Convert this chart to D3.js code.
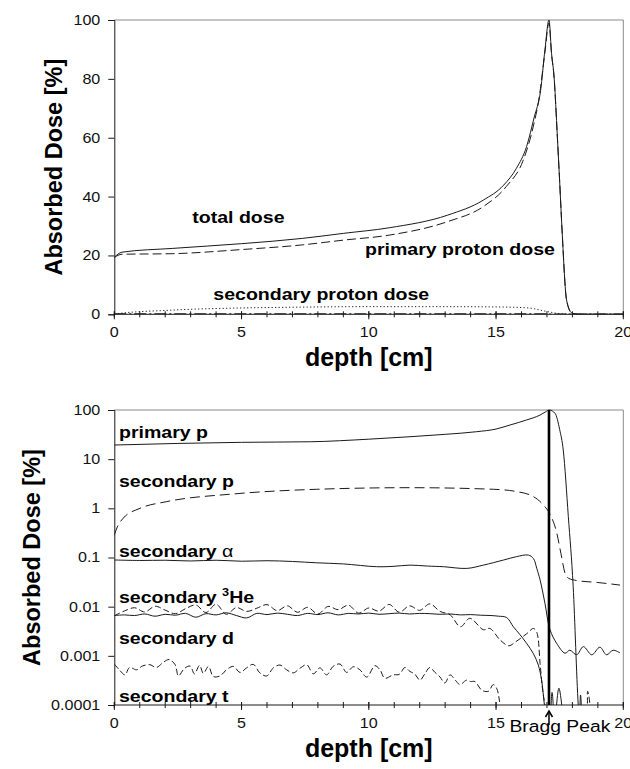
<!DOCTYPE html>
<html>
<head>
<meta charset="utf-8">
<script src="https://cdn.jsdelivr.net/npm/d3@7"></script>
<style>
  html, body { margin: 0; padding: 0; background: #fff; }
  svg { display: block; font-family: "Liberation Sans", Arial, Helvetica, sans-serif; }
</style>
</head>
<body>
<svg id="chart" width="630" height="769"></svg>
<script>
// ---------- depth axis ----------
const depthTicks = [0, 5, 10, 15, 20];
const depthMinorTicks = d3.range(0, 21, 1);

// ---------- upper panel: linear dose ----------
const doseTicks = [0, 20, 40, 60, 80, 100];

const totalDepth = [0, 0.3, 2.3, 5, 7.4, 9, 10.8, 13.1, 14.5, 15.3, 15.8, 16.2, 16.5, 16.75, 16.92, 17.08, 17.18, 17.28, 17.41, 17.5, 17.6, 17.77, 17.97, 18.2, 20];
const totalDose  = [19.4, 21.1, 22.4, 24.0, 25.8, 27.5, 29.4, 33.7, 38.8, 43.9, 49.6, 57.0, 67.0, 76.0, 89.8, 100, 88.7, 80.7, 60.3, 45, 27.5, 4.9, 0.5, 0, 0];

const primaryDepth = [0, 0.3, 2.3, 5, 7.4, 9, 10.8, 13.1, 14.5, 15.4, 16.07, 16.46, 16.7, 16.92, 17.08, 17.18, 17.28, 17.41, 17.5, 17.6, 17.77, 17.97, 18.2, 20];
const primaryDose  = [19.3, 20.4, 20.6, 22.0, 23.6, 25.2, 26.9, 31.5, 36.6, 43.4, 52.4, 63.7, 74.0, 89.0, 99.0, 88.5, 80.5, 60.0, 45, 27.5, 4.9, 0.5, 0, 0];

const secProtonDepth = [0, 0.3, 1, 2, 3, 4.7, 7, 10, 13, 15, 16, 16.5, 16.85, 17.1, 17.4, 17.8, 18.2, 20];
const secProtonDose  = [0, 0.4, 0.9, 1.3, 1.7, 2.1, 2.4, 2.6, 2.6, 2.5, 2.3, 1.9, 1.2, 0.8, 0.3, 0.05, 0, 0];

const heavySecDepth = [0, 16.5, 17.0, 17.5, 20];
const heavySecDose  = [0.15, 0.15, 0.1, 0, 0];

// ---------- lower panel: logarithmic dose ----------
const logDoseTicks = [0.0001, 0.001, 0.01, 0.1, 1, 10, 100];
const logDoseLabels = ["0.0001", "0.001", "0.01", "0.1", "1", "10", "100"];

const pDepth = [0, 2.5, 5, 7.7, 10, 11.62, 13, 14.24, 15, 15.55, 16.2, 16.73, 16.95, 17.09, 17.32, 17.5, 17.64, 17.84, 18.03, 18.23, 18.27, 18.32, 18.37];
const pDose  = [19.4, 20.9, 22.0, 22.6, 25.5, 28.6, 32.0, 36.2, 41.0, 49.5, 62.7, 79.0, 92.0, 100, 85.0, 40.0, 15.4, 0.68, 0.026, 0.0001, 0.00005, 0.00016, 0.00005];

const secPDepth = [0, 0.12, 0.35, 1.01, 2.06, 4.68, 7.95, 11.62, 14.9, 15.81, 16.47, 16.86, 17.1, 17.39, 17.55, 17.71, 17.84, 18.17, 19.0, 19.87];
const secPDose  = [0.287, 0.42, 0.63, 1.0, 1.37, 1.96, 2.44, 2.63, 2.44, 2.19, 1.73, 1.17, 0.79, 0.31, 0.12, 0.048, 0.038, 0.034, 0.031, 0.0275];

const alphaDepth = [0, 1, 2, 3, 4, 5, 6, 7, 7.95, 9, 10.3, 10.95, 11.62, 12.3, 12.93, 13.85, 14.5, 15.3, 15.8, 16.27, 16.47, 16.6, 16.73, 16.92, 17.12, 17.38, 17.71, 17.9, 18.17, 18.43, 18.76, 19.08, 19.34, 19.6, 19.87];
const alphaDose  = [0.089, 0.087, 0.088, 0.085, 0.088, 0.084, 0.086, 0.083, 0.078, 0.074, 0.065, 0.066, 0.070, 0.067, 0.065, 0.060, 0.070, 0.089, 0.104, 0.112, 0.095, 0.060, 0.035, 0.0118, 0.0034, 0.0018, 0.00113, 0.0013, 0.00105, 0.00154, 0.00105, 0.0015, 0.00105, 0.0013, 0.00115];

const heDepth = [0, 0.4, 0.8, 1.2, 1.6, 2.0, 2.4, 2.8, 3.2, 3.6, 4.0, 4.4, 4.8, 5.2, 5.6, 6.0, 6.4, 6.8, 7.2, 7.6, 8.0, 8.4, 8.8, 9.2, 9.6, 10.0, 10.4, 10.8, 11.2, 11.6, 12.0, 12.4, 12.8, 13.2, 13.6, 13.97, 14.5, 14.76, 15.16, 15.5, 15.75, 16.2, 16.47, 16.6, 16.73, 16.83, 16.92, 17.0, 18.45, 18.6, 18.72, 18.8];
const heDose  = [0.0065, 0.0082, 0.0095, 0.0078, 0.0102, 0.0085, 0.0072, 0.0091, 0.0108, 0.0076, 0.0112, 0.0070, 0.0096, 0.0080, 0.0093, 0.0110, 0.0083, 0.0104, 0.0077, 0.0097, 0.0071, 0.0101, 0.0087, 0.0107, 0.0074, 0.0094, 0.0081, 0.0111, 0.0077, 0.0104, 0.0084, 0.0114, 0.0080, 0.0068, 0.0039, 0.0058, 0.0034, 0.0036, 0.0021, 0.0016, 0.0019, 0.0028, 0.0036, 0.0030, 0.0007, 0.0002, 0.0001, 0.00005, 0.00005, 0.00019, 0.00008, 0.00005];

const dDepth = [0, 0.4, 0.8, 1.2, 1.6, 2.0, 2.4, 2.8, 3.2, 3.6, 4.0, 4.4, 4.8, 5.2, 5.6, 6.0, 6.4, 6.8, 7.2, 7.6, 8.0, 8.4, 8.8, 9.2, 9.6, 10.0, 10.4, 10.8, 11.2, 11.6, 12.0, 12.4, 12.8, 13.2, 13.6, 14.0, 14.4, 14.8, 15.1, 15.42, 15.68, 15.94, 16.2, 16.47, 16.66, 16.79, 16.9, 16.97, 17.08, 17.2, 17.3, 17.47, 17.64];
const dDose  = [0.0066, 0.0068, 0.0066, 0.0071, 0.0064, 0.0070, 0.0067, 0.0073, 0.0061, 0.0072, 0.0068, 0.0075, 0.0066, 0.0059, 0.0073, 0.0069, 0.0074, 0.0070, 0.0066, 0.0073, 0.0069, 0.0075, 0.0068, 0.0073, 0.0071, 0.0074, 0.0070, 0.0072, 0.0074, 0.0071, 0.0073, 0.0072, 0.0070, 0.0071, 0.0068, 0.0069, 0.0067, 0.0066, 0.0064, 0.0060, 0.0039, 0.0027, 0.0018, 0.0011, 0.00065, 0.00032, 0.0001, 0.00005, 0.00005, 0.00018, 0.00005, 0.00022, 0.00005];

const tDepth = [0, 0.2, 0.42, 0.6, 0.88, 1.1, 1.4, 1.65, 1.93, 2.15, 2.39, 2.52, 2.75, 2.98, 3.15, 3.35, 3.5, 3.7, 3.89, 4.15, 4.41, 4.68, 4.94, 5.2, 5.46, 5.72, 5.99, 6.25, 6.51, 6.77, 7.03, 7.3, 7.56, 7.82, 8.08, 8.34, 8.6, 8.87, 9.13, 9.39, 9.65, 9.92, 10.24, 10.44, 10.63, 10.96, 11.2, 11.42, 11.62, 11.8, 12.01, 12.2, 12.4, 12.6, 12.8, 12.99, 13.19, 13.4, 13.58, 13.84, 14.0, 14.17, 14.44, 14.7, 14.89, 15.02, 15.13, 15.2];
const tDose  = [0.00068, 0.00052, 0.00041, 0.00058, 0.00052, 0.00062, 0.00066, 0.00058, 0.00074, 0.00084, 0.00066, 0.00039, 0.00055, 0.00062, 0.00043, 0.00064, 0.00044, 0.00061, 0.00038, 0.00039, 0.00052, 0.00061, 0.00046, 0.00057, 0.00067, 0.00045, 0.00039, 0.00057, 0.00065, 0.00052, 0.00045, 0.00056, 0.00066, 0.00043, 0.00057, 0.00041, 0.00061, 0.00068, 0.00046, 0.00060, 0.00052, 0.00037, 0.00063, 0.00052, 0.00035, 0.00041, 0.00042, 0.00058, 0.00048, 0.00043, 0.00032, 0.00043, 0.00058, 0.00046, 0.00037, 0.00028, 0.00041, 0.00032, 0.00026, 0.00032, 0.00030, 0.00030, 0.00020, 0.00019, 0.00026, 0.00022, 0.000126, 0.00005];

const braggPeakDepth = 17.08;

// ---------- layout ----------
const svg = d3.select("#chart");
const left = 114.3, right = 623.3;
const top1 = 20, bottom1 = 314.3;
const top2 = 410, bottom2 = 705;
const ink = "#1a1a1a";
const FONT_SX = 1.15;   // horizontal glyph stretch for the annotation type

const x = d3.scaleLinear().domain([0, 20]).range([left, right]);
const yLin = d3.scaleLinear().domain([0, 100]).range([bottom1, top1]);
const yLog = d3.scaleLog().domain([0.0001, 100]).range([bottom2, top2]);

const defs = svg.append("defs");
defs.append("clipPath").attr("id", "clipTop")
  .append("rect").attr("x", left).attr("y", top1 - 2).attr("width", right - left).attr("height", bottom1 - top1 + 2);
defs.append("clipPath").attr("id", "clipBottom")
  .append("rect").attr("x", left).attr("y", top2 - 2).attr("width", right - left).attr("height", bottom2 - top2 + 2);

function zip(xs, ys) { return xs.map((d, i) => [d, ys[i]]); }

function stretchText(g, px, py, txt, size, weight, anchor, sx) {
  return g.append("text")
    .attr("transform", `translate(${px},${py}) scale(${sx},1)`)
    .attr("font-size", size)
    .attr("font-weight", weight)
    .attr("text-anchor", anchor)
    .attr("fill", "#000")
    .text(txt);
}

function drawFrame(y, yTop, yBottom, ticks, labels, titleX) {
  const g = svg.append("g");
  // light top/right border
  g.append("path")
    .attr("d", `M${left},${yTop}H${right}V${yBottom}`)
    .attr("fill", "none").attr("stroke", "#8a8a8a").attr("stroke-width", 1);

  // y axis
  const ya = d3.axisLeft(y).tickValues(ticks).tickSize(6).tickFormat((d, i) => labels[i]);
  const yg = g.append("g").attr("transform", `translate(${left},0)`).call(ya);
  yg.select(".domain").attr("stroke", ink);
  yg.selectAll(".tick line").attr("stroke", ink);
  yg.selectAll(".tick text")
    .attr("font-size", 14).attr("font-family", null).attr("fill", "#111")
    .attr("x", -14 / FONT_SX)
    .attr("transform", `scale(${FONT_SX},1)`);

  // depth axis: minor ticks straddle the line, major ticks point down
  const xg = g.append("g").attr("transform", `translate(0,${yBottom})`);
  xg.selectAll("line.minor").data(depthMinorTicks).join("line")
    .attr("x1", d => x(d)).attr("x2", d => x(d))
    .attr("y1", -3).attr("y2", 3).attr("stroke", ink).attr("stroke-width", 1);
  xg.selectAll("line.major").data(depthTicks).join("line")
    .attr("x1", d => x(d)).attr("x2", d => x(d))
    .attr("y1", -3).attr("y2", 5).attr("stroke", ink).attr("stroke-width", 1);
  xg.append("line").attr("x1", left).attr("x2", right).attr("y1", 0).attr("y2", 0)
    .attr("stroke", ink).attr("stroke-width", 1);
  xg.selectAll("text").data(depthTicks).join("text")
    .attr("transform", d => `translate(${x(d)},23) scale(${FONT_SX},1)`)
    .attr("text-anchor", "middle").attr("font-size", 14).attr("fill", "#111")
    .text(d => d);

  // axis titles
  g.append("text")
    .attr("x", (left + right) / 2).attr("y", yBottom + 52)
    .attr("text-anchor", "middle").attr("font-size", 25).attr("font-weight", "bold")
    .text("depth [cm]");
  g.append("text")
    .attr("transform", `translate(${titleX},${(yTop + yBottom) / 2}) rotate(-90)`)
    .attr("text-anchor", "middle").attr("font-size", 23.5).attr("font-weight", "bold")
    .text("Absorbed Dose [%]");
  return g;
}

// ---------- upper panel ----------
drawFrame(yLin, top1, bottom1, doseTicks, doseTicks.map(String), 61.5);

const lineTop = d3.line().x(d => x(d[0])).y(d => yLin(d[1])).curve(d3.curveMonotoneX);
const gTop = svg.append("g").attr("clip-path", "url(#clipTop)");
const topSeries = [
  { data: zip(heavySecDepth, heavySecDose), dash: "12,3,2,3", w: 1.4 },
  { data: zip(secProtonDepth, secProtonDose), dash: "1.2,2.3", w: 1 },
  { data: zip(primaryDepth, primaryDose), dash: "9,4", w: 1 },
  { data: zip(totalDepth, totalDose), dash: null, w: 1 }
];
topSeries.forEach(s => {
  gTop.append("path").attr("d", lineTop(s.data))
    .attr("fill", "none").attr("stroke", ink).attr("stroke-width", s.w)
    .attr("stroke-dasharray", s.dash);
});

const gTopLab = svg.append("g");
stretchText(gTopLab, 192.3, 222.7, "total dose", 17, "bold", "start", FONT_SX);
stretchText(gTopLab, 365, 255, "primary proton dose", 17, "bold", "start", FONT_SX);
stretchText(gTopLab, 213.3, 300, "secondary proton dose", 17, "bold", "start", FONT_SX);

// ---------- lower panel ----------
drawFrame(yLog, top2, bottom2, logDoseTicks, logDoseLabels, 39.5);

const smoothLog = d3.line().x(d => x(d[0])).y(d => yLog(d[1])).curve(d3.curveMonotoneX);
const wavyLog = d3.line().x(d => x(d[0])).y(d => yLog(d[1])).curve(d3.curveCatmullRom.alpha(0.5));
const gBot = svg.append("g").attr("clip-path", "url(#clipBottom)");
const botSeries = [
  { data: zip(tDepth, tDose), dash: "6,3", gen: wavyLog },
  { data: zip(dDepth, dDose), dash: null, gen: wavyLog },
  { data: zip(heDepth, heDose), dash: "6,3", gen: wavyLog },
  { data: zip(alphaDepth, alphaDose), dash: null, gen: wavyLog },
  { data: zip(secPDepth, secPDose), dash: "10,5", gen: smoothLog },
  { data: zip(pDepth, pDose), dash: null, gen: smoothLog }
];
botSeries.forEach(s => {
  gBot.append("path").attr("d", s.gen(s.data))
    .attr("fill", "none").attr("stroke", ink).attr("stroke-width", 1)
    .attr("stroke-dasharray", s.dash);
});

// Bragg peak marker
const bx = x(braggPeakDepth);
svg.append("line").attr("x1", bx).attr("x2", bx).attr("y1", top2).attr("y2", bottom2)
  .attr("stroke", "#000").attr("stroke-width", 2.6);
svg.append("line").attr("x1", bx).attr("x2", bx).attr("y1", bottom2 + 20).attr("y2", bottom2 + 8)
  .attr("stroke", "#000").attr("stroke-width", 1.5);
svg.append("path")
  .attr("d", `M${bx - 3.5},${bottom2 + 12}L${bx},${bottom2 + 6}L${bx + 3.5},${bottom2 + 12}`)
  .attr("fill", "none").attr("stroke", "#000").attr("stroke-width", 1.5);
stretchText(svg, 509.5, 731.5, "Bragg Peak", 16.5, "normal", "start", 1.17);

// series labels
const gBotLab = svg.append("g");
stretchText(gBotLab, 119, 438.3, "primary p", 17, "bold", "start", FONT_SX);
stretchText(gBotLab, 119, 486.7, "secondary p", 17, "bold", "start", FONT_SX);
const alphaLab = stretchText(gBotLab, 119, 556.7, "secondary ", 17, "bold", "start", FONT_SX);
alphaLab.append("tspan").attr("font-weight", "normal").text("α");
const heLab = stretchText(gBotLab, 119, 603.3, "secondary ", 17, "bold", "start", FONT_SX);
heLab.append("tspan").attr("font-size", 11).attr("dy", -7).text("3");
heLab.append("tspan").attr("dy", 7).text("He");
stretchText(gBotLab, 119, 644.3, "secondary d", 17, "bold", "start", FONT_SX);
stretchText(gBotLab, 119, 701.7, "secondary t", 17, "bold", "start", FONT_SX);
</script>
</body>
</html>
